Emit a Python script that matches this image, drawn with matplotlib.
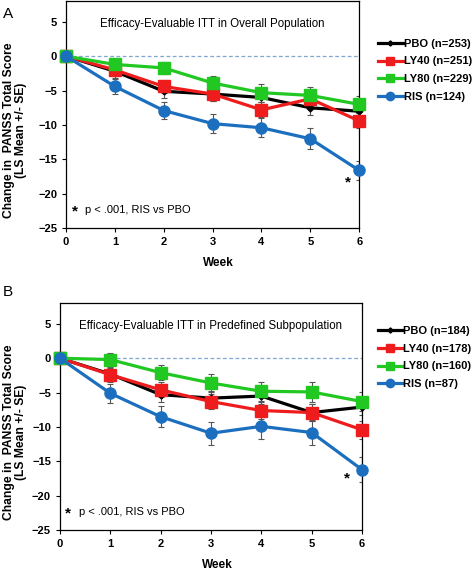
import matplotlib
matplotlib.use('Agg')
import matplotlib.pyplot as plt

plt.rcParams['font.family'] = ['Liberation Sans', 'DejaVu Sans']

weeks = [0, 1, 2, 3, 4, 5, 6]
series = ['PBO', 'LY40', 'LY80', 'RIS']

# panel A - overall population
a_n = [253, 251, 229, 124]
a_mean = {
    'PBO': [0, -2.2, -5.1, -5.5, -6.0, -7.5, -8.0],
    'LY40': [0, -2.0, -4.4, -5.5, -7.8, -6.2, -9.4],
    'LY80': [0, -1.2, -1.7, -3.9, -5.3, -5.7, -7.0],
    'RIS': [0, -4.4, -7.9, -9.8, -10.4, -12.0, -16.6],
}
a_se = {
    'PBO': [0, 0.9, 1.0, 1.0, 1.0, 1.0, 1.0],
    'LY40': [0, 0.9, 1.0, 1.0, 1.1, 1.0, 1.1],
    'LY80': [0, 0.8, 0.9, 1.0, 1.3, 1.2, 1.2],
    'RIS': [0, 1.1, 1.25, 1.4, 1.4, 1.5, 1.4],
}

# panel B - predefined subpopulation
b_n = [184, 178, 160, 87]
b_mean = {
    'PBO': [0, -2.3, -5.3, -5.8, -5.5, -7.9, -7.1],
    'LY40': [0, -2.4, -4.6, -6.3, -7.6, -7.9, -10.4],
    'LY80': [0, -0.2, -2.1, -3.6, -4.8, -4.9, -6.3],
    'RIS': [0, -5.1, -8.5, -10.9, -9.9, -10.8, -16.2],
}
b_se = {
    'PBO': [0, 1.0, 1.1, 1.1, 1.1, 1.2, 1.2],
    'LY40': [0, 1.0, 1.1, 1.1, 1.2, 1.2, 1.3],
    'LY80': [0, 1.0, 1.1, 1.3, 1.4, 1.4, 1.4],
    'RIS': [0, 1.4, 1.5, 1.7, 1.8, 1.8, 1.8],
}

colors = {'PBO': '#000000', 'LY40': '#ee1c1c', 'LY80': '#22c822', 'RIS': '#1c6fbf'}
markers = {'PBO': 'D', 'LY40': 's', 'LY80': 's', 'RIS': 'o'}
msizes = {'PBO': 3.5, 'LY40': 8.5, 'LY80': 8.5, 'RIS': 8}


def draw_panel(ax, means, ses, ns, title, star_xy, foot_xy, ylab_x, leg_xy):
    ax.axhline(0, color='#7fa7d0', lw=0.9, ls=(0, (3, 2)), zorder=1)
    for name, n in zip(series, ns):
        ax.errorbar(weeks, means[name], yerr=ses[name], fmt='none',
                    ecolor='#555555', elinewidth=0.8, capsize=2, capthick=0.8, zorder=2)
        ax.plot(weeks, means[name], color=colors[name], lw=2.3,
                marker=markers[name], ms=msizes[name],
                label='%s (n=%d)' % (name, n), zorder=3, clip_on=False)
    ax.set_xlim(0, 6)
    ax.set_ylim(-25, 8)
    ax.set_xticks(weeks)
    ax.set_yticks([5, 0, -5, -10, -15, -20, -25])
    for lab in ax.get_xticklabels() + ax.get_yticklabels():
        lab.set_fontweight('bold')
    ax.tick_params(labelsize=8, length=3, width=0.8, direction='out')
    for sp in ax.spines.values():
        sp.set_linewidth(0.9)
    ax.set_xlabel('Week', fontsize=8.5, fontweight='bold')
    ax.xaxis.set_label_coords(0.52, -0.125)
    ax.set_ylabel('Change in  PANSS Total Score\n(LS Mean +/- SE)', fontsize=8.7,
                  fontweight='bold', linespacing=1.0)
    ax.yaxis.set_label_coords(ylab_x, 0.43)
    ax.text(0.5, 0.9, title, transform=ax.transAxes, ha='center', va='center', fontsize=8.3)
    ax.text(star_xy[0], star_xy[1], '*', fontsize=11, fontweight='bold', ha='center', va='center')
    ax.text(foot_xy[0], foot_xy[1], '*', fontsize=11, fontweight='bold', ha='left', va='center')
    ax.text(foot_xy[0] + 0.27, foot_xy[1] + 0.2, 'p < .001, RIS vs PBO', fontsize=8, ha='left', va='center')
    leg = ax.legend(loc='upper left', bbox_to_anchor=leg_xy, frameon=False,
                    prop={'weight': 'bold', 'size': 8}, handlelength=2.2,
                    handletextpad=0.1, labelspacing=0.7, borderaxespad=0,
                    borderpad=0)
    for h in leg.legend_handles:
        h.set_markersize(h.get_markersize() * 0.75)


fig = plt.figure(figsize=(4.72, 5.72), dpi=100)
axA = fig.add_axes([0.140, 0.601, 0.621, 0.397])
axB = fig.add_axes([0.127, 0.073, 0.640, 0.397])

draw_panel(axA, a_mean, a_se, a_n, 'Efficacy-Evaluable ITT in Overall Population',
           (5.77, -18.4), (0.12, -22.6), -0.135, (1.065, 0.835))
draw_panel(axB, b_mean, b_se, b_n, 'Efficacy-Evaluable ITT in Predefined Subpopulation',
           (5.70, -17.5), (0.1, -22.5), -0.11, (1.052, 0.9))

fig.text(0.006, 0.968, 'A', fontsize=11)
fig.text(0.006, 0.483, 'B', fontsize=11)

fig.savefig('out.png', dpi=100)
